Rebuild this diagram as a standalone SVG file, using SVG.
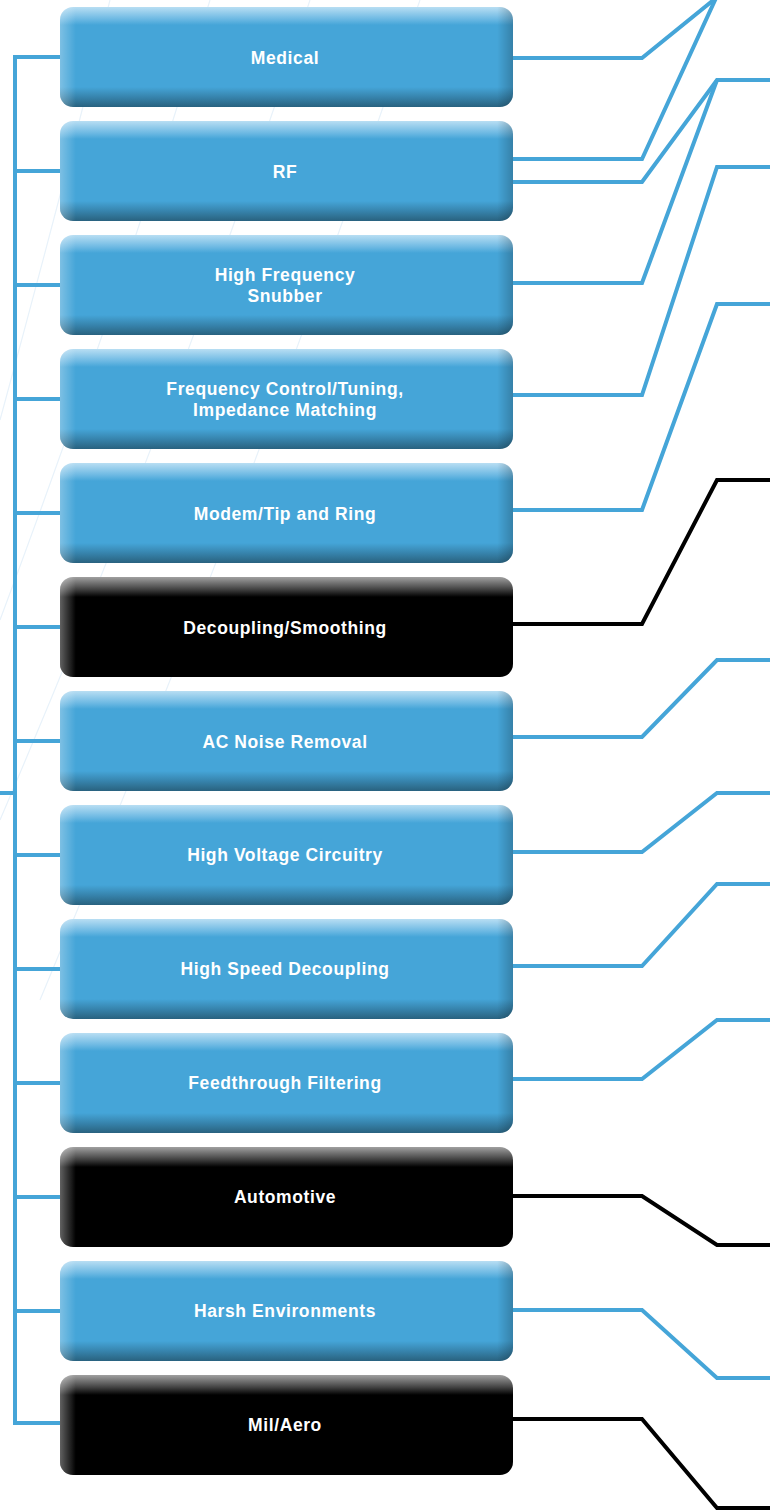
<svg xmlns="http://www.w3.org/2000/svg" width="770" height="1511" viewBox="0 0 770 1511">
<style>
.bl{fill:none;stroke:#45a5d8;stroke-width:4;stroke-linejoin:miter}
.bk{fill:none;stroke:#000;stroke-width:4;stroke-linejoin:miter}
.bg{fill:none;stroke:#e8f2fa;stroke-width:1.2}
.t{font-family:"Liberation Sans",Arial,sans-serif;font-weight:bold;font-size:17.5px;letter-spacing:0.6px;fill:#fff;text-anchor:middle}
</style>
<defs>
<linearGradient id="gb" x1="0" y1="0" x2="0" y2="1">
<stop offset="0" stop-color="#b8def3"/>
<stop offset="0.12" stop-color="#6db9e3"/>
<stop offset="0.18" stop-color="#45a5d8"/>
<stop offset="0.8" stop-color="#45a5d8"/>
<stop offset="0.9" stop-color="#3784ad"/>
<stop offset="1" stop-color="#29627f"/>
</linearGradient>
<linearGradient id="gk" x1="0" y1="0" x2="0" y2="1">
<stop offset="0" stop-color="#a0a0a0"/>
<stop offset="0.12" stop-color="#444"/>
<stop offset="0.2" stop-color="#000"/>
<stop offset="1" stop-color="#000"/>
</linearGradient>
<linearGradient id="gh" x1="0" y1="0" x2="1" y2="0">
<stop offset="0" stop-color="#fff" stop-opacity="0.3"/>
<stop offset="0.035" stop-color="#fff" stop-opacity="0"/>
<stop offset="0.965" stop-color="#000" stop-opacity="0"/>
<stop offset="1" stop-color="#000" stop-opacity="0.22"/>
</linearGradient>
<linearGradient id="ghk" x1="0" y1="0" x2="1" y2="0">
<stop offset="0" stop-color="#fff" stop-opacity="0.38"/>
<stop offset="0.035" stop-color="#fff" stop-opacity="0"/>
<stop offset="1" stop-color="#fff" stop-opacity="0"/>
</linearGradient>
<g id="boxB"><rect x="0" y="0" width="453" height="100" rx="13" fill="url(#gb)"/><rect x="0" y="0" width="453" height="100" rx="13" fill="url(#gh)"/></g>
<g id="boxK"><rect x="0" y="0" width="453" height="100" rx="13" fill="url(#gk)"/><rect x="0" y="0" width="453" height="100" rx="13" fill="url(#ghk)"/></g>
</defs>
<rect width="770" height="1511" fill="#fff"/>
<g id="background">
<path class="bg" d="M0,420 Q60,200 110,0"/>
<path class="bg" d="M0,620 Q120,300 210,0"/>
<path class="bg" d="M0,820 Q180,400 310,0"/>
<path class="bg" d="M40,1000 Q250,500 420,0"/>
</g>
<g id="connectors">
<path class="bl" d="M60,57 H15 V1423 H60 M15,171 H60 M15,285 H60 M15,399 H60 M15,513 H60 M15,627 H60 M15,741 H60 M15,855 H60 M15,969 H60 M15,1083 H60 M15,1197 H60 M15,1311 H60 M0,793 H15"/>
<path class="bl" d="M513,58 H642 L716,-2"/>
<path class="bl" d="M513,159 H642 L716,-2"/>
<path class="bl" d="M513,182 H642 L717,80 H770"/>
<path class="bl" d="M513,283 H642 L717,80"/>
<path class="bl" d="M513,395 H642 L717,167 H770"/>
<path class="bl" d="M513,510 H642 L717,304 H770"/>
<path class="bk" d="M513,624 H642 L717,480 H770"/>
<path class="bl" d="M513,737 H642 L717,660 H770"/>
<path class="bl" d="M513,852 H642 L717,793 H770"/>
<path class="bl" d="M513,966 H642 L717,884 H770"/>
<path class="bl" d="M513,1079 H642 L717,1020 H770"/>
<path class="bk" d="M513,1196 H642 L717,1245 H770"/>
<path class="bl" d="M513,1310 H642 L717,1378 H770"/>
<path class="bk" d="M513,1419 H642 L717,1508 H770"/>
</g>
<g id="n1"><use href="#boxB" x="60" y="7"/><text class="t" x="285" y="64">Medical</text></g>
<g id="n2"><use href="#boxB" x="60" y="121"/><text class="t" x="285" y="178">RF</text></g>
<g id="n3"><use href="#boxB" x="60" y="235"/><text class="t" x="285" y="281">High Frequency</text><text class="t" x="285" y="302">Snubber</text></g>
<g id="n4"><use href="#boxB" x="60" y="349"/><text class="t" x="285" y="395">Frequency Control/Tuning,</text><text class="t" x="285" y="416">Impedance Matching</text></g>
<g id="n5"><use href="#boxB" x="60" y="463"/><text class="t" x="285" y="520">Modem/Tip and Ring</text></g>
<g id="n6"><use href="#boxK" x="60" y="577"/><text class="t" x="285" y="634">Decoupling/Smoothing</text></g>
<g id="n7"><use href="#boxB" x="60" y="691"/><text class="t" x="285" y="748">AC Noise Removal</text></g>
<g id="n8"><use href="#boxB" x="60" y="805"/><text class="t" x="285" y="861">High Voltage Circuitry</text></g>
<g id="n9"><use href="#boxB" x="60" y="919"/><text class="t" x="285" y="975">High Speed Decoupling</text></g>
<g id="n10"><use href="#boxB" x="60" y="1033"/><text class="t" x="285" y="1089">Feedthrough Filtering</text></g>
<g id="n11"><use href="#boxK" x="60" y="1147"/><text class="t" x="285" y="1203">Automotive</text></g>
<g id="n12"><use href="#boxB" x="60" y="1261"/><text class="t" x="285" y="1317">Harsh Environments</text></g>
<g id="n13"><use href="#boxK" x="60" y="1375"/><text class="t" x="285" y="1431">Mil/Aero</text></g>
</svg>
